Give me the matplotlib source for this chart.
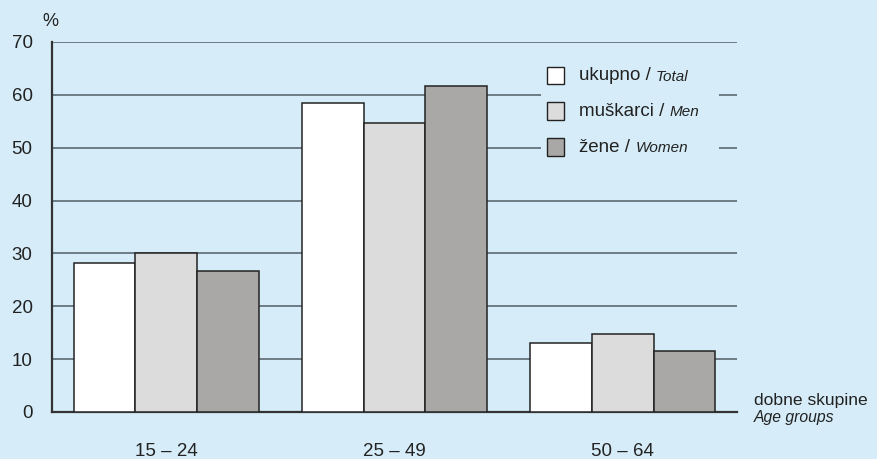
import matplotlib
matplotlib.use("Agg")
import matplotlib.pyplot as plt
from matplotlib.patches import Rectangle
import numpy as np

categories = ["15 – 24", "25 – 49", "50 – 64"]
total = [28.2, 58.4, 13.0]
men = [30.1, 54.6, 14.8]
women = [26.6, 61.7, 11.5]
series_names = ["ukupno / ", "muškarci / ", "žene / "]
series_names_en = ["Total", "Men", "Women"]
yticks = [0, 10, 20, 30, 40, 50, 60, 70]

plt.rcParams['font.family'] = ['Liberation Sans', 'DejaVu Sans']

W, H = 878, 459
BG = "#d6edf9"
GRID = "#6e7c84"
EDGE = "#222222"
colors = ["#ffffff", "#dcdcdc", "#a9a8a7"]

fig = plt.figure(figsize=(W / 100, H / 100), dpi=100, facecolor=BG)
def fx(px): return px / W
def fy(py): return 1 - py / H

ax = fig.add_axes([fx(52), fy(412), fx(737) - fx(52), fy(42) - fy(412)])
ax.set_facecolor(BG)

x = np.arange(len(categories))
bw = 0.27
for i, (vals, c) in enumerate(zip([total, men, women], colors)):
    ax.bar(x + (i - 1) * bw, vals, width=bw, color=c, edgecolor=EDGE,
           linewidth=1.1, zorder=3)

ax.set_xlim(-0.5, 2.5)
ax.set_ylim(0, 70)
ax.set_yticks(yticks)
ax.set_xticks(x)
ax.set_xticklabels(categories)
ax.tick_params(axis='y', length=0, pad=14, labelsize=13.5, labelcolor="#222222")
ax.tick_params(axis='x', length=0, pad=22, labelsize=13.5, labelcolor="#222222")
ax.set_axisbelow(True)
ax.yaxis.grid(True, color=GRID, linewidth=1.4)
ax.xaxis.grid(False)
for s in ["top", "right"]:
    ax.spines[s].set_visible(False)
for s in ["left", "bottom"]:
    ax.spines[s].set_color("#333333")
    ax.spines[s].set_linewidth(1.6)

# legend background hiding grid lines
ax.add_patch(Rectangle((fx(541), fy(163)), fx(719) - fx(541), fy(58) - fy(163),
                       transform=fig.transFigure, facecolor=BG, edgecolor='none',
                       zorder=1))
row_y = [75.5, 111, 147]
for name, en, c, ry in zip(series_names, series_names_en, colors, row_y):
    ax.add_patch(Rectangle((fx(547), fy(ry + 8.5)), fx(17.5), 17.5 / H,
                           transform=fig.transFigure, facecolor=c, edgecolor=EDGE,
                           linewidth=1.0, zorder=4, clip_on=False))
    t = fig.text(fx(579), fy(ry), name, fontsize=13.5, va='center', ha='left',
                 color="#222222")
    fig.canvas.draw()
    ax.annotate(en, xy=(1, 0), xycoords=t, va='bottom', ha='left',
                fontsize=11, style='italic', color="#222222",
                annotation_clip=False)

fig.text(fx(50), fy(21), "%", fontsize=13, ha='center', va='center', color="#222222")
fig.text(fx(754), fy(405), "dobne skupine", fontsize=12.6, ha='left', va='baseline',
         color="#222222")
fig.text(fx(754), fy(422), "Age groups", fontsize=11.3, ha='left', va='baseline',
         style='italic', color="#222222")

fig.savefig("out.png", dpi=100, facecolor=BG)
